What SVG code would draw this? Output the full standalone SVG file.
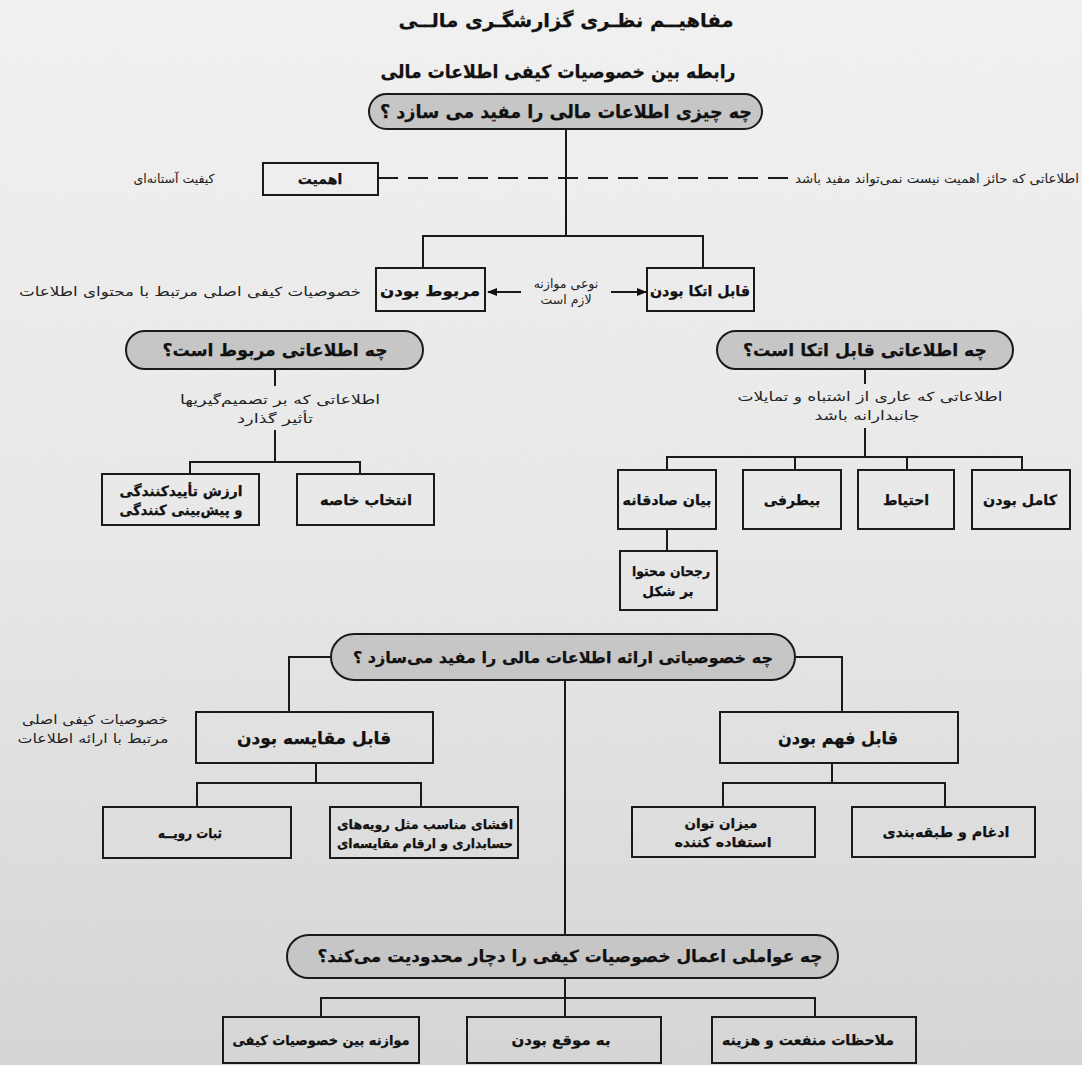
<svg xmlns="http://www.w3.org/2000/svg" width="1082" height="1065" viewBox="0 0 1082 1065">
<defs>
<linearGradient id="bg" x1="0" y1="0" x2="0" y2="1">
<stop offset="0" stop-color="#f4f4f4"/>
<stop offset="0.5" stop-color="#ebebeb"/>
<stop offset="1" stop-color="#d7d7d7"/>
</linearGradient>
<filter id="noise" x="0" y="0" width="100%" height="100%">
<feTurbulence type="fractalNoise" baseFrequency="0.9" numOctaves="2" seed="3" result="n"/>
<feColorMatrix in="n" type="matrix" values="0 0 0 0 0.5  0 0 0 0 0.5  0 0 0 0 0.5  0 0 0 0.35 0"/>
</filter>
<marker id="arr" viewBox="0 0 10 10" refX="9" refY="5" markerWidth="10" markerHeight="10" markerUnits="userSpaceOnUse" orient="auto">
<path d="M0,1 L10,5 L0,9 z" fill="#111"/>
</marker>
<style>
.t{font-family:"DejaVu Sans",sans-serif;direction:rtl;text-anchor:middle;fill:#111;stroke:#111;stroke-width:0.25}
.b{font-weight:bold}
.lab{font-family:"DejaVu Sans",sans-serif;direction:rtl;text-anchor:middle;fill:#222;font-size:12.5px}
.box{fill:none;stroke:#1a1a1a;stroke-width:2}
.pill{fill:#c6c6c6;stroke:#1a1a1a;stroke-width:2}
.ln{fill:none;stroke:#1a1a1a;stroke-width:2}
</style>
</defs>
<rect width="1082" height="1065" fill="url(#bg)"/>
<rect width="1082" height="1065" filter="url(#noise)" opacity="0.35"/>

<g id="titles">
<text class="t b" x="566" y="27" font-size="19" textLength="335" lengthAdjust="spacingAndGlyphs">مفاهیــم نظـری گزارشگـری مالــی</text>
<text class="t b" x="558" y="78" font-size="18" textLength="355" lengthAdjust="spacingAndGlyphs">رابطه بین خصوصیات کیفی اطلاعات مالی</text>
</g>

<g id="connectors">
<line class="ln" x1="566" y1="129" x2="566" y2="236"/>
<line class="ln" x1="378" y1="178" x2="790" y2="178" stroke-dasharray="20 10"/>
<polyline class="ln" points="423,268 423,236 703,236 703,268"/>
<line class="ln" x1="521" y1="292" x2="488" y2="292" stroke-width="1.5" marker-end="url(#arr)"/>
<line class="ln" x1="611" y1="292" x2="646" y2="292" stroke-width="1.5" marker-end="url(#arr)"/>
<line class="ln" x1="275" y1="369" x2="275" y2="386"/>
<line class="ln" x1="275" y1="430" x2="275" y2="462"/>
<polyline class="ln" points="190,474 190,462 360,462 360,474"/>
<line class="ln" x1="865" y1="369" x2="865" y2="384"/>
<line class="ln" x1="865" y1="428" x2="865" y2="457"/>
<polyline class="ln" points="667,470 667,457 1022,457 1022,470"/>
<line class="ln" x1="795" y1="457" x2="795" y2="470"/>
<line class="ln" x1="907" y1="457" x2="907" y2="470"/>
<line class="ln" x1="667" y1="529" x2="667" y2="551"/>
<polyline class="ln" points="331,657 289,657 289,712"/>
<polyline class="ln" points="795,657 842,657 842,712"/>
<line class="ln" x1="316" y1="763" x2="316" y2="783"/>
<polyline class="ln" points="197,807 197,783 421,783 421,807"/>
<line class="ln" x1="832" y1="763" x2="832" y2="783"/>
<polyline class="ln" points="723,807 723,783 945,783 945,807"/>
<line class="ln" x1="565" y1="680" x2="565" y2="935"/>
<line class="ln" x1="565" y1="978" x2="565" y2="1017"/>
<polyline class="ln" points="321,1017 321,998 815,998 815,1017"/>
</g>

<g id="n-q1">
<rect class="pill" x="369" y="94" width="393" height="35" rx="17.5"/>
<text class="t b" x="566" y="118" font-size="18" textLength="372" lengthAdjust="spacingAndGlyphs">چه چیزی اطلاعات مالی را مفید می سازد ؟</text>
</g>
<g id="n-materiality">
<rect class="box" x="263" y="163" width="115" height="32"/>
<text class="t b" x="320" y="184" font-size="14">اهمیت</text>
</g>
<text class="lab" x="174" y="183">کیفیت آستانه‌ای</text>
<text class="lab" x="937" y="183" textLength="284" lengthAdjust="spacingAndGlyphs">اطلاعاتی که حائز اهمیت نیست نمی‌تواند مفید باشد</text>

<g id="n-relevance">
<rect class="box" x="376" y="268" width="109" height="43"/>
<text class="t b" x="430" y="296" font-size="15" textLength="100" lengthAdjust="spacingAndGlyphs">مربوط بودن</text>
</g>
<g id="n-reliability">
<rect class="box" x="647" y="268" width="107" height="43"/>
<text class="t b" x="700" y="296" font-size="15" textLength="100" lengthAdjust="spacingAndGlyphs">قابل اتکا بودن</text>
</g>
<text class="lab" x="566" y="288" font-size="12">نوعی موازنه</text>
<text class="lab" x="566" y="304" font-size="12">لازم است</text>
<text class="lab" x="190" y="296" textLength="342" lengthAdjust="spacingAndGlyphs">خصوصیات کیفی اصلی مرتبط با محتوای اطلاعات</text>

<g id="n-q2">
<rect class="pill" x="126" y="331" width="297" height="38" rx="19"/>
<text class="t b" x="275" y="356" font-size="17" textLength="225" lengthAdjust="spacingAndGlyphs">چه اطلاعاتی مربوط است؟</text>
</g>
<text class="lab" x="280" y="404" textLength="200" lengthAdjust="spacingAndGlyphs">اطلاعاتی که بر تصمیم‌گیریها</text>
<text class="lab" x="275" y="423" textLength="76" lengthAdjust="spacingAndGlyphs">تأثیر گذارد</text>
<g id="n-predictive">
<rect class="box" x="102" y="474" width="157" height="51"/>
<text class="t b" x="181" y="496" font-size="14" textLength="123" lengthAdjust="spacingAndGlyphs">ارزش تأییدکنندگی</text>
<text class="t b" x="181" y="515" font-size="14" textLength="123" lengthAdjust="spacingAndGlyphs">و پیش‌بینی کنندگی</text>
</g>
<g id="n-selection">
<rect class="box" x="297" y="474" width="137" height="51"/>
<text class="t b" x="366" y="505" font-size="14.5" textLength="92" lengthAdjust="spacingAndGlyphs">انتخاب خاصه</text>
</g>

<g id="n-q3">
<rect class="pill" x="717" y="331" width="296" height="38" rx="19"/>
<text class="t b" x="865" y="356" font-size="17" textLength="244" lengthAdjust="spacingAndGlyphs">چه اطلاعاتی قابل اتکا است؟</text>
</g>
<text class="lab" x="870" y="401" textLength="265" lengthAdjust="spacingAndGlyphs">اطلاعاتی که عاری از اشتباه و تمایلات</text>
<text class="lab" x="867" y="420" textLength="105" lengthAdjust="spacingAndGlyphs">جانبدارانه باشد</text>
<g id="n-faithful">
<rect class="box" x="618" y="470" width="98" height="59"/>
<text class="t b" x="667" y="505" font-size="14" textLength="89" lengthAdjust="spacingAndGlyphs">بیان صادقانه</text>
</g>
<g id="n-neutral">
<rect class="box" x="743" y="470" width="98" height="59"/>
<text class="t b" x="792" y="505" font-size="14">بیطرفی</text>
</g>
<g id="n-prudence">
<rect class="box" x="858" y="470" width="96" height="59"/>
<text class="t b" x="906" y="505" font-size="14">احتیاط</text>
</g>
<g id="n-complete">
<rect class="box" x="972" y="470" width="98" height="59"/>
<text class="t b" x="1020" y="505" font-size="14" textLength="74" lengthAdjust="spacingAndGlyphs">کامل بودن</text>
</g>
<g id="n-substance">
<rect class="box" x="620" y="551" width="97" height="59"/>
<text class="t b" x="671" y="576" font-size="13.5" textLength="78" lengthAdjust="spacingAndGlyphs">رجحان محتوا</text>
<text class="t b" x="668" y="596" font-size="13.5">بر شکل</text>
</g>

<g id="n-q4">
<rect class="pill" x="331" y="634" width="464" height="46" rx="23"/>
<text class="t b" x="563" y="663" font-size="16" textLength="420" lengthAdjust="spacingAndGlyphs">چه خصوصیاتی ارائه اطلاعات مالی را مفید می‌سازد ؟</text>
</g>
<text class="lab" x="95" y="724" textLength="146" lengthAdjust="spacingAndGlyphs">خصوصیات کیفی اصلی</text>
<text class="lab" x="93" y="743" textLength="151" lengthAdjust="spacingAndGlyphs">مرتبط با ارائه اطلاعات</text>
<g id="n-comparability">
<rect class="box" x="196" y="712" width="237" height="51"/>
<text class="t b" x="314" y="744" font-size="17" textLength="154" lengthAdjust="spacingAndGlyphs">قابل مقایسه بودن</text>
</g>
<g id="n-understandability">
<rect class="box" x="720" y="712" width="238" height="51"/>
<text class="t b" x="838" y="744" font-size="17" textLength="120" lengthAdjust="spacingAndGlyphs">قابل فهم بودن</text>
</g>
<g id="n-consistency">
<rect class="box" x="103" y="807" width="188" height="51"/>
<text class="t b" x="190" y="838" font-size="13.5" textLength="64" lengthAdjust="spacingAndGlyphs">ثبات رویــه</text>
</g>
<g id="n-disclosure">
<rect class="box" x="330" y="807" width="188" height="51"/>
<text class="t b" x="425" y="829" font-size="13" textLength="176" lengthAdjust="spacingAndGlyphs">افشای مناسب مثل رویه‌های</text>
<text class="t b" x="425" y="848" font-size="13" textLength="176" lengthAdjust="spacingAndGlyphs">حسابداری و ارقام مقایسه‌ای</text>
</g>
<g id="n-user-ability">
<rect class="box" x="632" y="807" width="183" height="50"/>
<text class="t b" x="721" y="828" font-size="13.5">میزان توان</text>
<text class="t b" x="723" y="847" font-size="13.5" textLength="97" lengthAdjust="spacingAndGlyphs">استفاده کننده</text>
</g>
<g id="n-aggregation">
<rect class="box" x="852" y="807" width="183" height="50"/>
<text class="t b" x="946" y="837" font-size="14" textLength="127" lengthAdjust="spacingAndGlyphs">ادغام و طبقه‌بندی</text>
</g>

<g id="n-q5">
<rect class="pill" x="287" y="935" width="551" height="43" rx="21.5"/>
<text class="t b" x="570" y="962" font-size="16.5" textLength="505" lengthAdjust="spacingAndGlyphs">چه عواملی اعمال خصوصیات کیفی را دچار محدودیت می‌کند؟</text>
</g>
<g id="n-balance">
<rect class="box" x="223" y="1017" width="196" height="46"/>
<text class="t b" x="321" y="1045" font-size="13.5" textLength="177" lengthAdjust="spacingAndGlyphs">موازنه بین خصوصیات کیفی</text>
</g>
<g id="n-timeliness">
<rect class="box" x="467" y="1017" width="194" height="46"/>
<text class="t b" x="561" y="1045" font-size="14" textLength="99" lengthAdjust="spacingAndGlyphs">به موقع بودن</text>
</g>
<g id="n-costbenefit">
<rect class="box" x="712" y="1017" width="204" height="46"/>
<text class="t b" x="808" y="1045" font-size="14" textLength="172" lengthAdjust="spacingAndGlyphs">ملاحظات منفعت و هزینه</text>
</g>
</svg>
